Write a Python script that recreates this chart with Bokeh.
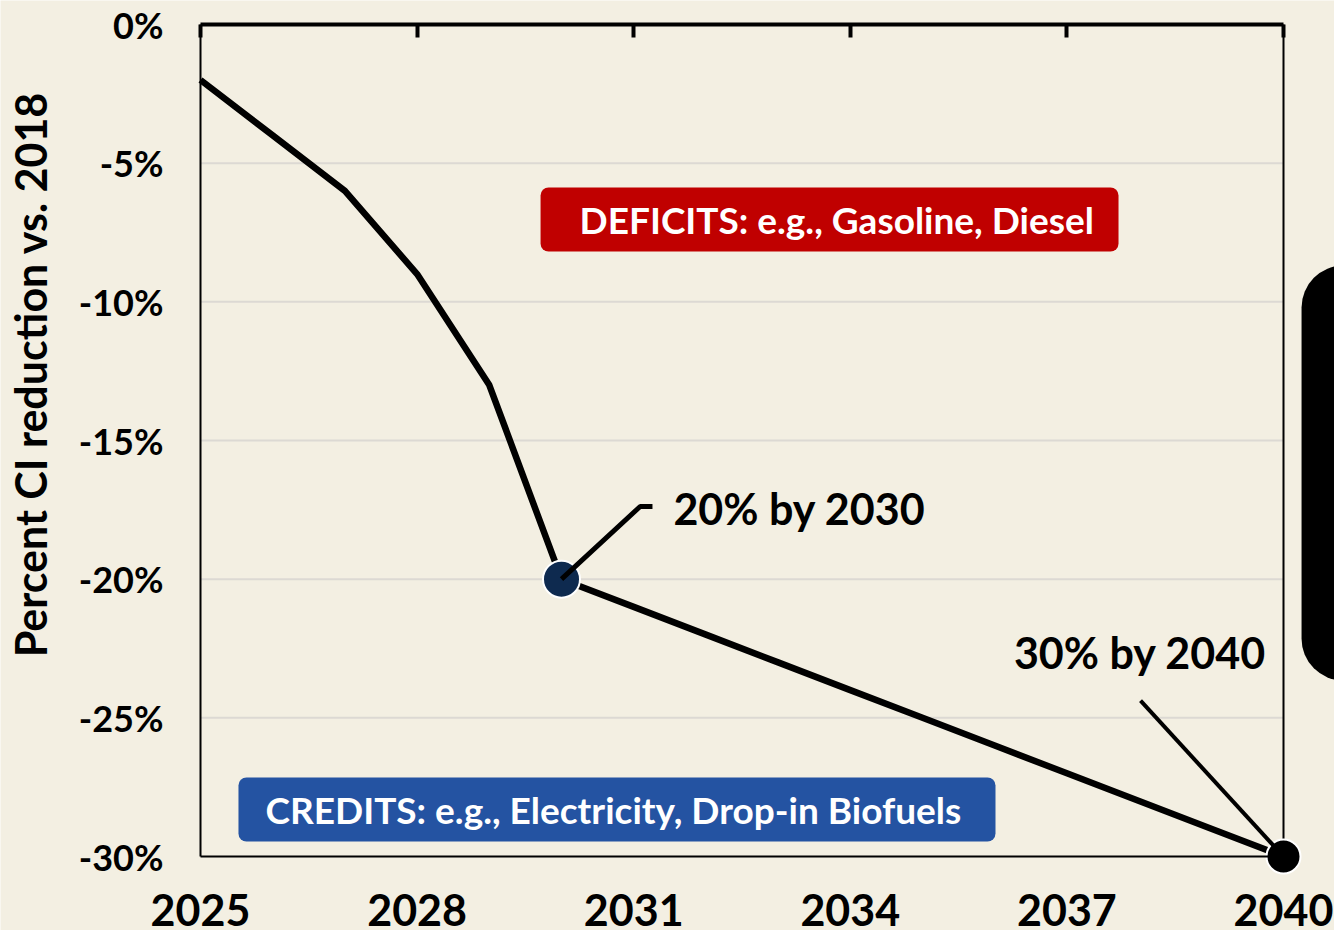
import math
from bokeh.plotting import figure
from bokeh.models import Range1d, FixedTicker, LinearAxis, Label, BoxAnnotation
from bokeh.embed import file_html
from bokeh.resources import INLINE

# ---- data ----
years = [2025, 2026, 2027, 2028, 2029, 2030, 2031, 2032, 2033, 2034, 2035, 2036, 2037, 2038, 2039, 2040]
ci_reduction = [-2, -4, -6, -9, -13, -20, -21, -22, -23, -24, -25, -26, -27, -28, -29, -30]
x_ticks = [2025, 2028, 2031, 2034, 2037, 2040]
y_ticks = [0, -5, -10, -15, -20, -25, -30]
y_tick_labels = ["0%", "-5%", "-10%", "-15%", "-20%", "-25%", "-30%"]
grid_values = [-5, -10, -15, -20, -25]
milestone_years = [2030, 2040]
milestone_values = [-20, -30]
milestone_labels = ["20% by 2030", "30% by 2040"]
y_title = "Percent CI reduction vs. 2018"
deficit_text = "DEFICITS: e.g., Gasoline, Diesel"
credit_text = "CREDITS: e.g., Electricity, Drop-in Biofuels"

BG = "#F3EFE2"
FONT = "Lato"
X0, X1 = x_ticks[0], x_ticks[-1]
Y0, Y1 = y_ticks[-1], y_ticks[0]

# canvas geometry: plot box from px 200..1283 (x) and 24..856 (y)
W, H = 1334, 930
PX_L, PX_R, PX_T, PX_B = 200, 1283, 24, 856
sx = (PX_R - PX_L) / (X1 - X0)
sy = (PX_B - PX_T) / (Y1 - Y0)
x_start = X0 - PX_L / sx
x_end = X0 + (W - PX_L) / sx
y_end = Y1 + PX_T / sy
y_start = Y1 - (H - PX_T) / sy

p = figure(width=W, height=H, output_backend="svg", toolbar_location=None,
           x_range=Range1d(x_start, x_end), y_range=Range1d(y_start, y_end),
           x_axis_location=None, y_axis_location=None,
           min_border_left=0, min_border_right=0, min_border_top=0, min_border_bottom=0)
p.background_fill_color = BG
p.border_fill_color = BG
p.outline_line_color = None
p.xgrid.visible = False
p.ygrid.visible = False

# grid lines and right border
p.segment(x0=[X0] * len(grid_values), y0=grid_values, x1=[X1] * len(grid_values), y1=grid_values,
          line_color="#DCD9D3", line_width=2)
p.segment(x0=[X1], y0=[Y0], x1=[X1], y1=[Y1], line_color="black", line_width=2)

# bottom axis at -30
xb = LinearAxis(ticker=FixedTicker(ticks=x_ticks), fixed_location=Y0, bounds=(X0, X1))
xb.axis_line_color = "black"
xb.axis_line_width = 2
xb.major_tick_in = 0
xb.major_tick_out = 0
xb.minor_tick_line_color = None
xb.major_label_text_font = FONT
xb.major_label_text_font_style = "bold"
xb.major_label_text_font_size = "43px"
xb.major_label_text_color = "black"
xb.major_label_standoff = 37
p.add_layout(xb, "below")

# top axis at 0: thick line with inward ticks
xt = LinearAxis(ticker=FixedTicker(ticks=x_ticks), fixed_location=Y1, bounds=(X0, X1))
xt.axis_line_color = "black"
xt.axis_line_width = 4
xt.major_tick_in = 13
xt.major_tick_out = 0
xt.major_tick_line_width = 4
xt.minor_tick_line_color = None
xt.major_label_text_font_size = "1px"
xt.major_label_text_alpha = 0
xt.major_label_standoff = 0
p.add_layout(xt, "above")

# left axis at 2025 with percentage labels
yl = LinearAxis(ticker=FixedTicker(ticks=y_ticks), fixed_location=X0, bounds=(Y0, Y1))
yl.axis_line_color = "black"
yl.axis_line_width = 2
yl.major_tick_in = 0
yl.major_tick_out = 0
yl.minor_tick_line_color = None
yl.major_label_overrides = {t: s for t, s in zip(y_ticks, y_tick_labels)}
yl.major_label_text_font = FONT
yl.major_label_text_font_style = "bold"
yl.major_label_text_font_size = "36px"
yl.major_label_text_color = "black"
yl.major_label_standoff = 37
p.add_layout(yl, "left")

# vertical axis title
p.add_layout(Label(x=X0 - (PX_L - 30) / sx, y=Y1 - (374 - PX_T) / sy, text=y_title,
                   angle=math.pi / 2, text_font=FONT, text_font_style="bold",
                   text_font_size="43px", text_color="black",
                   text_align="center", text_baseline="alphabetic"))

# boxes
p.add_layout(BoxAnnotation(left=2029.71, right=2037.715, top=-5.877, bottom=-8.185,
                           fill_color="#C00000", fill_alpha=1, line_color=None,
                           border_radius=8))
p.add_layout(BoxAnnotation(left=2025.526, right=2036.011, top=-27.152, bottom=-29.46,
                           fill_color="#2453A2", fill_alpha=1, line_color=None,
                           border_radius=8))
p.add_layout(Label(x=2030.25, y=-7.03, text=deficit_text, text_font=FONT,
                   text_font_style="bold", text_font_size="37px", text_color="white",
                   text_align="left", text_baseline="middle"))
p.add_layout(Label(x=2025.90, y=-28.306, text=credit_text, text_font=FONT,
                   text_font_style="bold", text_font_size="37px", text_color="white",
                   text_align="left", text_baseline="middle"))

# cut-off black shape at right edge
p.add_layout(BoxAnnotation(left=2040.25, right=2041.5, top=-8.69, bottom=-23.66,
                           fill_color="black", fill_alpha=1, line_color=None,
                           border_radius=42))

# main line
p.line(years, ci_reduction, line_color="black", line_width=6.5)

# milestone markers
p.scatter([milestone_years[0]], [milestone_values[0]], size=37, fill_color="#0E2A4F",
          line_color="white", line_width=2)
p.scatter([milestone_years[1]], [milestone_values[1]], size=34, fill_color="black",
          line_color="white", line_width=2)

# leader lines (drawn over the markers)
p.line([milestone_years[0], 2031.09, 2031.26], [milestone_values[0], -17.38, -17.38],
       line_color="black", line_width=5)
p.line([2038.02, milestone_years[1]], [-24.38, milestone_values[1]],
       line_color="black", line_width=4)

# milestone labels
p.add_layout(Label(x=2031.55, y=-17.45, text=milestone_labels[0], text_font=FONT,
                   text_font_style="bold", text_font_size="43px", text_color="black",
                   text_align="left", text_baseline="middle"))
p.add_layout(Label(x=2039.76, y=-22.65, text=milestone_labels[1], text_font=FONT,
                   text_font_style="bold", text_font_size="43px", text_color="black",
                   text_align="right", text_baseline="middle"))

open("out.html", "w").write(file_html(p, INLINE))
